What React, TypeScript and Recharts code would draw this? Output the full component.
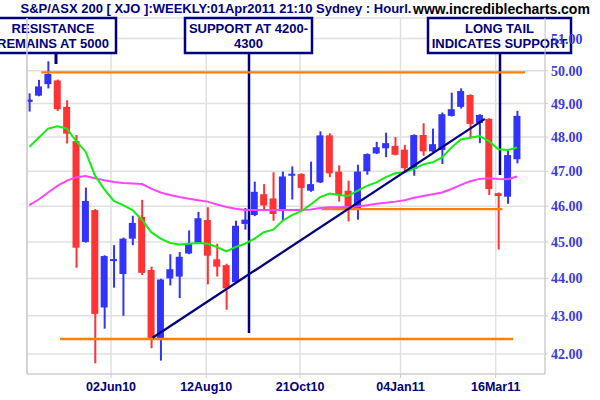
import React from 'react';
import { ComposedChart, Bar, Line, XAxis, YAxis, CartesianGrid, ReferenceLine } from 'recharts';

// Weekly bars (Friday close), S&P/ASX 200 in hundreds of points
const weeks = [
  '2010-04-02', '2010-04-09', '2010-04-16', '2010-04-23', '2010-04-30',
  '2010-05-07', '2010-05-14', '2010-05-21', '2010-05-28',
  '2010-06-04', '2010-06-11', '2010-06-18', '2010-06-25',
  '2010-07-02', '2010-07-09', '2010-07-16', '2010-07-23', '2010-07-30',
  '2010-08-06', '2010-08-13', '2010-08-20', '2010-08-27',
  '2010-09-03', '2010-09-10', '2010-09-17', '2010-09-24',
  '2010-10-01', '2010-10-08', '2010-10-15', '2010-10-22', '2010-10-29',
  '2010-11-05', '2010-11-12', '2010-11-19', '2010-11-26',
  '2010-12-03', '2010-12-10', '2010-12-17', '2010-12-24', '2010-12-31',
  '2011-01-07', '2011-01-14', '2011-01-21', '2011-01-28',
  '2011-02-04', '2011-02-11', '2011-02-18', '2011-02-25',
  '2011-03-04', '2011-03-11', '2011-03-18', '2011-03-25',
  '2011-04-01',
];

const opens = [
  49.05, 49.24, 49.59, 49.70, 48.90, 47.88, 45.00, 45.89, 43.22, 44.48,
  44.12, 45.09, 45.70, 44.23, 42.41, 44.00, 44.05, 44.68, 44.98, 45.61,
  44.52, 44.36, 43.90, 45.50, 45.75, 46.34, 46.22, 45.88, 46.88, 46.92,
  46.44, 46.68, 48.05, 46.99, 46.44, 45.95, 47.00, 47.52, 47.67, 47.74,
  47.63, 47.07, 48.06, 47.58, 47.62, 48.63, 48.90, 49.26, 48.42, 48.54,
  46.37, 46.27, 47.35,
];
const highs = [
  49.31, 49.72, 50.29, 49.73, 49.10, 48.06, 46.53, 45.92, 44.63, 44.91,
  45.12, 45.73, 46.18, 44.32, 43.99, 44.66, 44.72, 45.32, 45.84, 45.97,
  44.95, 44.40, 45.59, 45.95, 46.70, 46.63, 46.97, 46.99, 47.14, 46.94,
  47.28, 48.17, 48.11, 47.17, 46.73, 47.19, 47.52, 47.86, 48.13, 48.00,
  47.77, 48.08, 48.41, 48.25, 48.73, 49.33, 49.46, 49.28, 48.68, 48.56,
  46.39, 47.64, 48.78,
];
const lows = [
  48.76, 49.22, 49.46, 48.78, 47.81, 44.29, 44.98, 41.76, 42.66, 43.75,
  43.00, 44.91, 44.09, 42.15, 41.83, 43.81, 43.47, 44.66, 44.96, 43.84,
  44.05, 43.16, 43.88, 45.34, 45.72, 45.86, 45.59, 45.61, 46.19, 45.86,
  46.41, 46.66, 46.83, 46.13, 45.57, 45.62, 46.90, 47.50, 47.41, 47.46,
  46.97, 46.87, 47.45, 47.55, 47.21, 48.61, 48.85, 48.00, 47.82, 46.32,
  44.79, 46.07, 47.23,
];
const closes = [
  49.12, 49.52, 49.90, 48.83, 48.10, 44.84, 46.15, 43.05, 44.61, 44.52,
  45.09, 45.53, 44.15, 42.41, 43.97, 44.25, 44.59, 44.95, 45.66, 44.62,
  44.32, 43.73, 45.45, 45.62, 46.41, 46.02, 45.78, 46.85, 46.92, 46.52,
  46.63, 48.05, 46.94, 46.31, 46.00, 46.99, 47.50, 47.70, 47.82, 47.48,
  47.09, 48.06, 47.58, 47.79, 48.68, 48.83, 49.38, 48.39, 48.66, 46.49,
  46.29, 47.47, 48.63,
];
// short moving average (green)
const maShort = [
  47.71, 47.98, 48.25, 48.32, 48.25, 47.88, 47.57, 46.88, 46.48, 46.15,
  46.03, 45.89, 45.62, 45.27, 45.09, 44.97, 44.93, 44.95, 44.97, 44.95,
  44.86, 44.74, 44.86, 44.95, 45.09, 45.27, 45.34, 45.59, 45.75, 45.86,
  46.05, 46.26, 46.36, 46.32, 46.29, 46.44, 46.58, 46.68, 46.83, 46.94,
  46.97, 47.07, 47.20, 47.26, 47.40, 47.69, 47.93, 47.98, 48.03, 47.88,
  47.64, 47.62, 47.69,
];
// long moving average (magenta)
const maLong = [
  46.03, 46.19, 46.39, 46.58, 46.73, 46.83, 46.86, 46.80, 46.74, 46.69,
  46.66, 46.65, 46.63, 46.50, 46.39, 46.32, 46.26, 46.21, 46.17, 46.13,
  46.05, 45.98, 45.93, 45.89, 45.89, 45.89, 45.89, 45.89, 45.89, 45.89,
  45.91, 45.95, 45.97, 45.97, 45.98, 45.99, 46.03, 46.07, 46.10, 46.13,
  46.17, 46.24, 46.29, 46.34, 46.39, 46.49, 46.61, 46.71, 46.78, 46.80,
  46.78, 46.77, 46.85,
];

const tickDates = ['2010-06-02', '2010-08-12', '2010-10-21', '2011-01-04', '2011-03-16'];
const tickLabels = ['02Jun10', '12Aug10', '21Oct10', '04Jan11', '16Mar11'];
const priceTicks = [42, 43, 44, 45, 46, 47, 48, 49, 50, 51];

// horizontal support / resistance lines: [from, to, level]
const levelLines: [string, string, number][] = [
  ['2010-04-11', '2011-04-07', 49.95],
  ['2010-11-06', '2011-03-21', 45.92],
  ['2010-04-25', '2011-03-29', 42.39],
];
// rising trend line: [date, level]
const trendLine: [string, number][] = [
  ['2010-07-03', 42.42],
  ['2011-03-08', 48.54],
];

const calloutTexts = [
  ['RESISTANCE', 'REMAINS AT 5000'],
  ['SUPPORT AT 4200-', '4300'],
  ['LONG TAIL', 'INDICATES SUPPORT'],
];
const titleText = 'S&P/ASX 200 [ XJO ]:WEEKLY:01Apr2011 21:10 Sydney : Hourl.';
const siteText = 'www.incrediblecharts.com';

const DAY = 86400000;
const ms = (s: string) => Date.parse(s + 'T00:00:00Z');
const xDomain = [ms(weeks[0]) - 1.72 * DAY, ms(weeks[weeks.length - 1]) + 20.8 * DAY];
const yDomain = [41.486, 51.65];

const data = weeks.map((w, i) => ({
  t: ms(w),
  range: [lows[i], highs[i]],
  body: [Math.min(opens[i], closes[i]), Math.max(opens[i], closes[i])],
  up: closes[i] >= opens[i],
  maShort: maShort[i],
  maLong: maLong[i],
}));

const tickTimes = tickDates.map(ms);
const labelFor = (v: number) => {
  const i = tickTimes.indexOf(v);
  return i >= 0 ? tickLabels[i] : '';
};

const BLUE = '#3333ff';
const RED = '#ff3333';
const NAVY = '#000080';
const ORANGE = '#ff8000';
const GRID = '#e0e0e0';
const SANS = "'Liberation Sans', Arial, sans-serif";
const PLOT_RIGHT = 545;

const WickShape = (props: any) => {
  const { x, y, width, height, payload } = props;
  const top = Math.min(y, y + height);
  const h = Math.max(Math.abs(height), 1);
  return <rect x={x} y={top} width={width} height={h} fill={payload.up ? BLUE : RED} />;
};

const BodyShape = (props: any) => {
  const { x, y, width, height, payload } = props;
  let top = Math.min(y, y + height);
  let h = Math.abs(height);
  if (h < 2) {
    top = top + h / 2 - 1;
    h = 2;
  }
  return <rect x={x} y={top} width={width} height={h} fill={payload.up ? BLUE : RED} />;
};

const boxes = [
  { x: -10, w: 126, px: 56, py: 64, pw: 3 },
  { x: 185, w: 127, px: 249, py: 333, pw: 2.5 },
  { x: 428, w: 143, px: 500, py: 175, pw: 2.5 },
];

const Callouts = () => (
  <g fontFamily={SANS} fontWeight="bold">
    <text x={20.5} y={13.3} fontSize={13} fill={NAVY}>{titleText}</text>
    <text x={413} y={13.5} fontSize={14} fill="#000">{siteText}</text>
    {boxes.map((b, i) => (
      <g key={i}>
        <rect x={b.px - b.pw / 2} y={53} width={b.pw} height={b.py - 53} fill={NAVY} />
        <rect x={b.x} y={18} width={Math.min(b.w, PLOT_RIGHT - b.x)} height={35} fill="#fff" />
        <rect x={b.x} y={18} width={b.w} height={35} fill="none" stroke={NAVY} strokeWidth={2.5} />
        <text x={b.x + b.w / 2} y={32.7} fontSize={13} fill={NAVY} textAnchor="middle">{calloutTexts[i][0]}</text>
        <text x={b.x + b.w / 2} y={48.3} fontSize={13} fill={NAVY} textAnchor="middle">{calloutTexts[i][1]}</text>
      </g>
    ))}
  </g>
);

export default function App() {
  return (
    <div style={{ position: 'absolute', left: 0, top: 0, width: 600, height: 400, background: '#fff' }}>
      <ComposedChart
        width={600}
        height={400}
        data={data}
        margin={{ top: 18, right: 0, bottom: 0, left: 27 }}
      >
        <CartesianGrid xAxisId="t" yAxisId="p" stroke={GRID} strokeWidth={1.5} />
        <ReferenceLine xAxisId="t" yAxisId="p" x={xDomain[0]} stroke="#cccccc" strokeWidth={1.5} />
        {levelLines.map(([a, b, v], i) => (
          <ReferenceLine
            key={'lvl' + i}
            xAxisId="t"
            yAxisId="p"
            segment={[{ x: ms(a), y: v }, { x: ms(b), y: v }]}
            stroke={ORANGE}
            strokeWidth={2.3}
            ifOverflow="visible"
          />
        ))}
        <Line xAxisId="t" yAxisId="p" dataKey="maLong" stroke="#ff44ff" strokeWidth={2} dot={false} isAnimationActive={false} />
        <Line xAxisId="t" yAxisId="p" dataKey="maShort" stroke="#11ee11" strokeWidth={2} dot={false} isAnimationActive={false} />
        <Bar xAxisId="w" yAxisId="p" dataKey="range" barSize={2} shape={WickShape} isAnimationActive={false} />
        <Bar xAxisId="t" yAxisId="p" dataKey="body" barSize={7} shape={BodyShape} isAnimationActive={false} />
        <ReferenceLine
          xAxisId="t"
          yAxisId="p"
          segment={trendLine.map(([d, v]) => ({ x: ms(d), y: v }))}
          stroke={NAVY}
          strokeWidth={2.3}
          ifOverflow="visible"
        />
        <Callouts />
        <XAxis
          xAxisId="t"
          type="number"
          dataKey="t"
          domain={xDomain}
          allowDataOverflow
          ticks={tickTimes}
          interval={0}
          tickFormatter={labelFor}
          height={26}
          tickSize={4}
          tickMargin={4}
          stroke="#cccccc"
          tick={{ fill: NAVY, fontSize: 12.5, fontWeight: 'bold', fontFamily: SANS }}
        />
        <XAxis xAxisId="w" type="number" dataKey="t" domain={xDomain} allowDataOverflow hide />
        <YAxis
          yAxisId="p"
          orientation="right"
          scale="log"
          domain={yDomain}
          allowDataOverflow
          ticks={priceTicks}
          interval={0}
          tickFormatter={(v: number) => v.toFixed(2)}
          width={55}
          tickSize={3}
          tickMargin={3}
          stroke="#cccccc"
          tick={{ fill: '#3b3bdf', fontSize: 14, fontWeight: 'bold', fontFamily: "'Liberation Serif', 'Times New Roman', serif" }}
        />
      </ComposedChart>
    </div>
  );
}
